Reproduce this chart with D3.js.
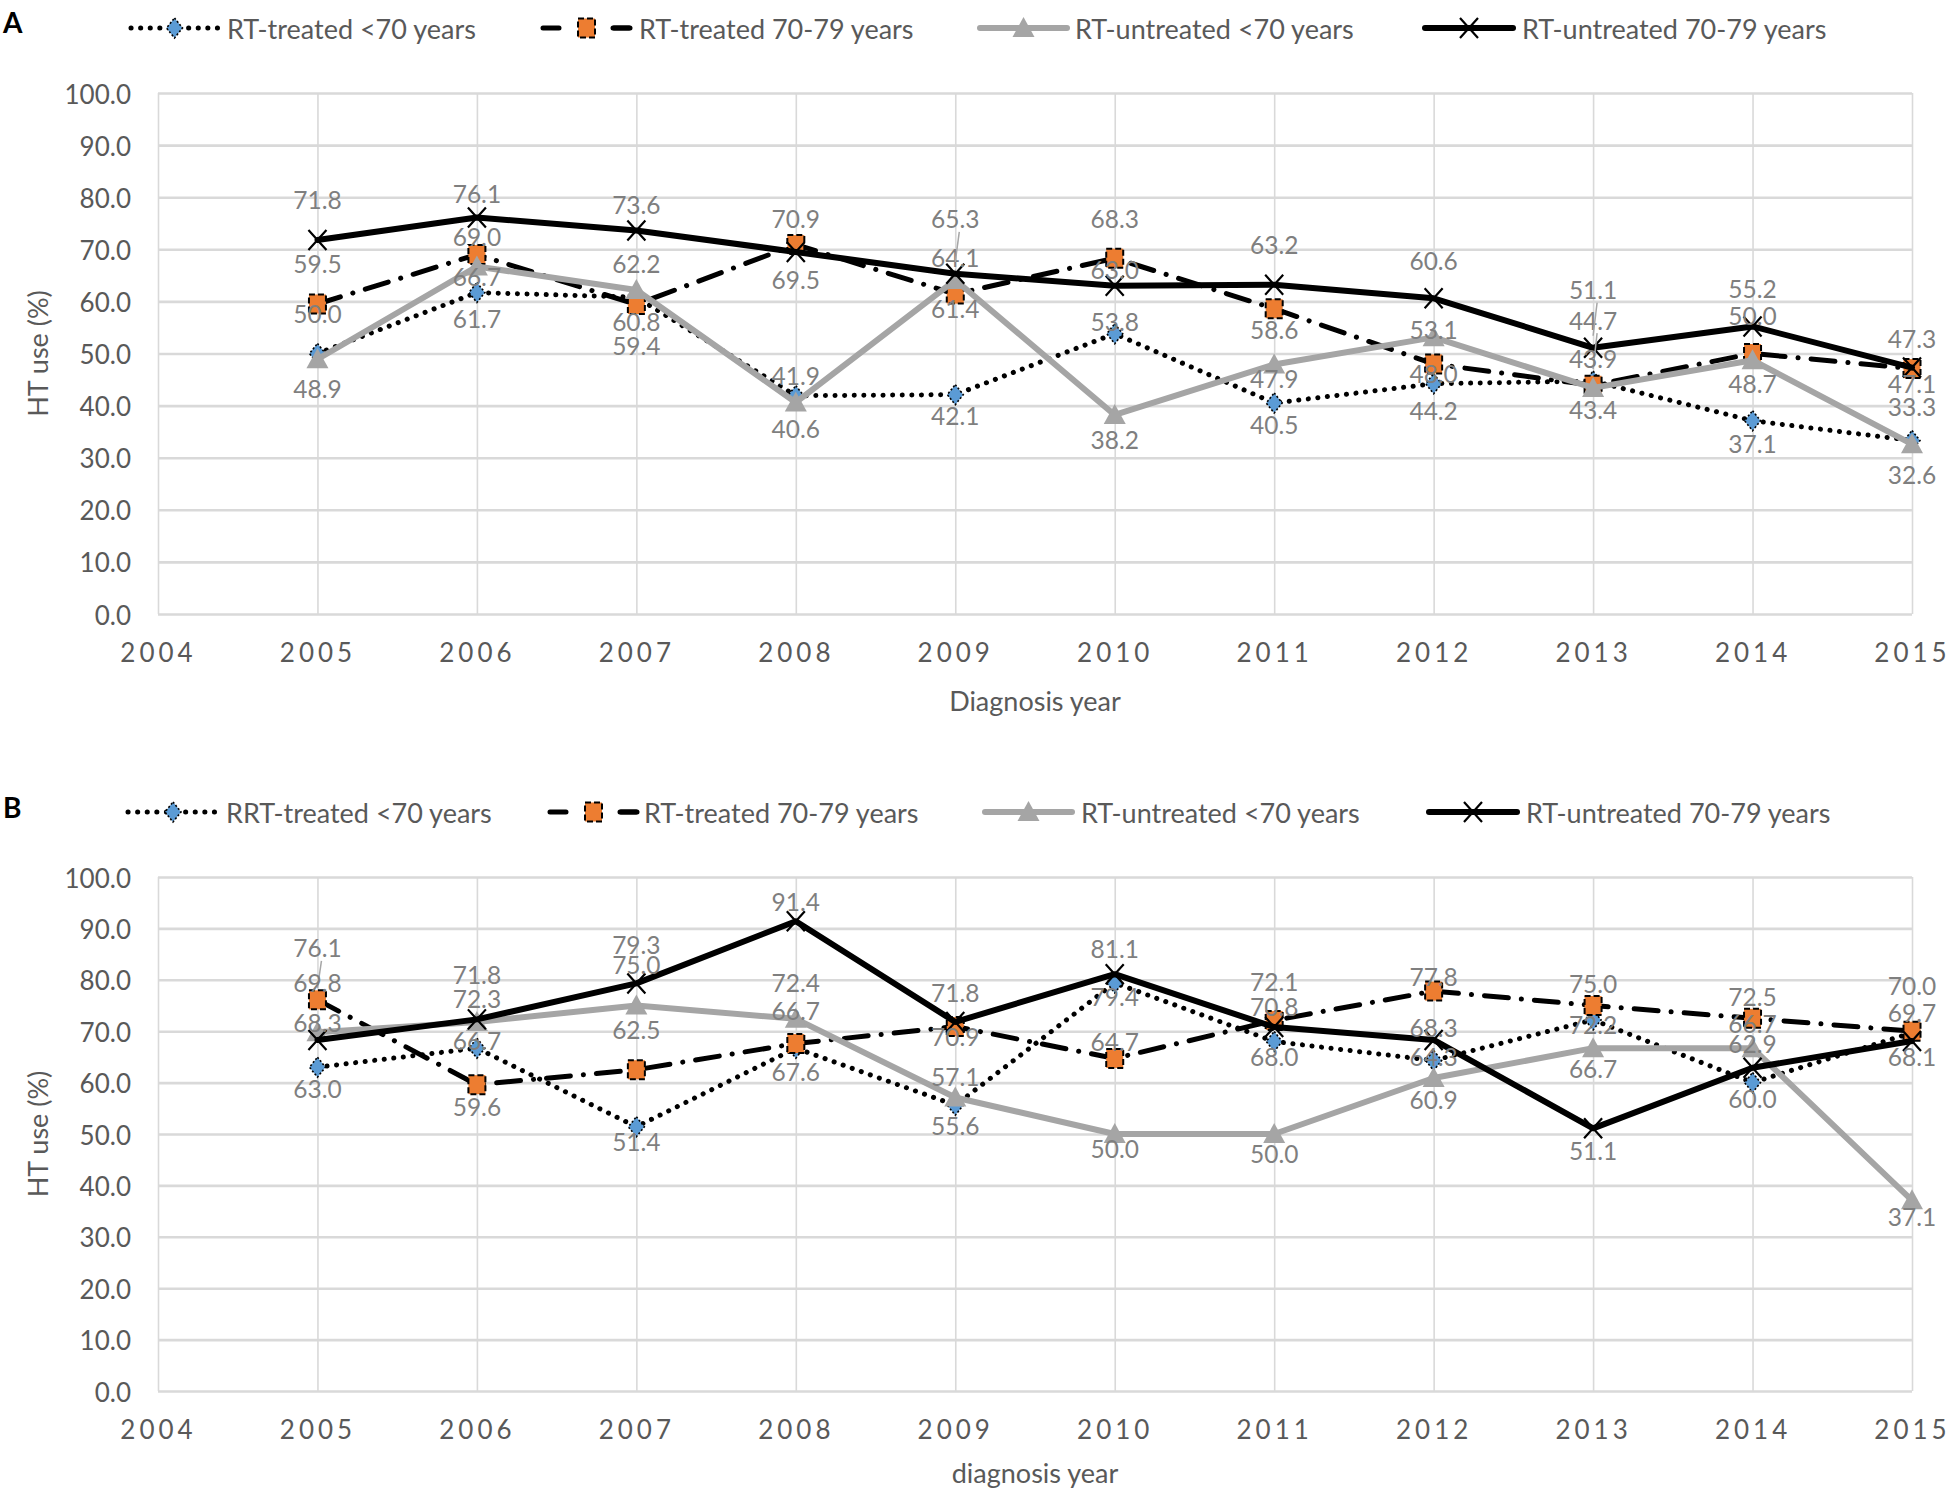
<!DOCTYPE html>
<html><head><meta charset="utf-8">
<script src="https://cdn.jsdelivr.net/npm/d3@7"></script>
<style>
body{margin:0;background:#fff;}
text{font-family:Lato,'Open Sans',sans-serif;}
</style>
</head><body>
<svg id="c" width="1952" height="1491"></svg>
<script>
// ---------- DATA ----------
const years = [2005,2006,2007,2008,2009,2010,2011,2012,2013,2014,2015];
const xTicks = [2004,2005,2006,2007,2008,2009,2010,2011,2012,2013,2014,2015];
const yTicks = [0,10,20,30,40,50,60,70,80,90,100];

const legendA = ["RT-treated <70 years","RT-treated 70-79 years","RT-untreated <70 years","RT-untreated 70-79 years"];
const legendB = ["RRT-treated <70 years","RT-treated 70-79 years","RT-untreated <70 years","RT-untreated 70-79 years"];

// Panel A
const aTreatedU70   = [50.0,61.7,60.8,41.9,42.1,53.8,40.5,44.2,44.7,37.1,33.3];
const aTreated7079  = [59.5,69.0,59.4,70.9,61.4,68.3,58.6,48.0,43.9,50.0,47.1];
const aUntreatedU70 = [48.9,66.7,62.2,40.6,64.1,38.2,47.9,53.1,43.4,48.7,32.6];
const aUntreated7079= [71.8,76.1,73.6,69.5,65.3,63.0,63.2,60.6,51.1,55.2,47.3];
// Panel B
const bTreatedU70   = [63.0,66.7,51.4,66.7,55.6,79.4,68.0,64.3,72.2,60.0,69.7];
const bTreated7079  = [76.1,59.6,62.5,67.6,70.9,64.7,72.1,77.8,75.0,72.5,70.0];
const bUntreatedU70 = [69.8,71.8,75.0,72.4,57.1,50.0,50.0,60.9,66.7,66.7,37.1];
const bUntreated7079= [68.3,72.3,79.3,91.4,71.8,81.1,70.8,68.3,51.1,62.9,68.1];

// data label vertical offsets (px, relative to marker)
const aLblBlue  = [-40,26,24,-20,21,-12,22,27,-61,23,-34];
const aLblOrg   = [-41,-18,41,-26,14,-40,21,10,-27,-38,15];
const aLblGray  = [29,10,-26,26,-23,25,14,-8,22,23,30];
const aLblBlack = [-40,-24,-26,28,-55,-16,-40,-38,-58,-38,-29];
const bLblBlue  = [21,-8,15,-38,20,14,15,-4,5,16,-20];
const bLblOrg   = [-52,22,-40,28,10,-17,-39,-15,-22,-22,-46];
const bLblGray  = [-50,-47,-41,-36,-21,14,19,22,20,-25,16];
const bLblBlack = [-17,-21,-39,-20,-29,-26,-21,-12,22,-24,16];

// ---------- DRAW ----------
const svg = d3.select('#c');
const X0 = 158, X1 = 1912;
const fmt = d3.format('.1f');

const styles = [
  {stroke:'#000', width:5, dash:'0.1 9.5', cap:'round', marker:'diamond'},
  {stroke:'#000', width:5, dash:'24 13 0.1 13', cap:'round', marker:'square'},
  {stroke:'#A5A5A5', width:6, dash:null, cap:'round', marker:'triangle'},
  {stroke:'#000', width:6, dash:null, cap:'round', marker:'x'}
];

function drawMarker(g, type, cx, cy){
  if(type==='diamond'){
    g.append('path').attr('d',`M${cx},${cy-10}L${cx+8},${cy}L${cx},${cy+10}L${cx-8},${cy}Z`)
     .attr('fill','#5B9BD5').attr('stroke','#000').attr('stroke-width',1.6).attr('stroke-dasharray','2 2');
  } else if(type==='square'){
    g.append('rect').attr('x',cx-8.5).attr('y',cy-9.5).attr('width',17).attr('height',19)
     .attr('fill','#ED7D31').attr('stroke','#000').attr('stroke-width',2).attr('stroke-dasharray','6 3');
  } else if(type==='triangle'){
    g.append('path').attr('d',`M${cx},${cy-11}L${cx+11},${cy+9}L${cx-11},${cy+9}Z`).attr('fill','#A5A5A5');
  } else {
    g.append('path').attr('d',`M${cx-9},${cy-10}L${cx+9},${cy+10}M${cx+9},${cy-10}L${cx-9},${cy+10}`)
     .attr('stroke','#000').attr('stroke-width',2.2).attr('fill','none');
  }
}

function panel(o){
  const g = svg.append('g');
  const x = d3.scaleLinear().domain([2004,2015]).range([X0,X1]);
  const y = d3.scaleLinear().domain([0,100]).range([o.bottom,o.top]);

  // panel letter
  g.append('text').attr('x',3).attr('y',o.letterY).attr('dominant-baseline','central')
    .attr('font-size',28).attr('font-weight','bold').attr('fill','#000').text(o.letter);

  // y axis + horizontal grid
  const ya = g.append('g').attr('transform',`translate(${X0},0)`)
    .call(d3.axisLeft(y).tickValues(yTicks).tickSize(-(X1-X0)).tickPadding(27).tickFormat(fmt));
  ya.select('.domain').remove();
  ya.selectAll('line').attr('stroke','#D9D9D9').attr('stroke-width',2.6);
  ya.selectAll('text').attr('font-size',26).attr('fill','#595959').attr('dy',null)
    .attr('dominant-baseline','central').style('font-family','Lato');

  // x axis + vertical grid
  const xa = g.append('g').attr('transform',`translate(0,${o.bottom})`)
    .call(d3.axisBottom(x).tickValues(xTicks).tickSize(-(o.bottom-o.top)).tickPadding(0).tickFormat(d3.format('d')));
  xa.select('.domain').remove();
  xa.selectAll('line').attr('stroke','#D9D9D9').attr('stroke-width',1.6);
  xa.selectAll('text').attr('font-size',26).attr('fill','#595959').attr('dy',null)
    .attr('y',38).attr('dominant-baseline','central').attr('letter-spacing','4px').style('font-family','Lato');

  // axis titles
  g.append('text').attr('x',(X0+X1)/2).attr('y',o.bottom+o.titleGap).attr('text-anchor','middle')
    .attr('dominant-baseline','central').attr('font-size',27).attr('fill','#595959').text(o.xTitle);
  g.append('text').attr('transform',`translate(37,${(o.top+o.bottom)/2}) rotate(-90)`)
    .attr('text-anchor','middle').attr('dominant-baseline','central').attr('font-size',27)
    .attr('fill','#595959').text('HT use (%)');

  // series
  const line = d3.line().x((d,i)=>x(years[i])).y(d=>y(d));
  o.series.forEach((s,k)=>{
    const st = styles[k];
    const p = g.append('path').attr('d',line(s)).attr('fill','none').attr('stroke',st.stroke)
      .attr('stroke-width',st.width).attr('stroke-linecap',st.cap).attr('stroke-linejoin','round');
    if(st.dash) p.attr('stroke-dasharray',st.dash);
    s.forEach((v,i)=>drawMarker(g, st.marker, x(years[i]), y(v)));
  });

  // data labels
  o.series.forEach((s,k)=>{
    s.forEach((v,i)=>{
      const cx = x(years[i]), cy = y(v), dy = o.labels[k][i];
      if(Math.abs(dy) >= 51){
        g.append('line').attr('x1',cx+4).attr('y1',cy+dy+13).attr('x2',cx).attr('y2',cy-12)
          .attr('stroke','#A6A6A6').attr('stroke-width',1.5);
      }
      g.append('text').attr('x',cx).attr('y',cy+dy).attr('text-anchor','middle')
        .attr('dominant-baseline','central').attr('font-size',24.5).attr('fill','#7F7F7F').text(fmt(v));
    });
  });

  // legend
  o.legend.forEach((name,k)=>{
    const L = o.legendPos[k], st = styles[k];
    const p = g.append('line').attr('x1',L[0]).attr('x2',L[1]).attr('y1',o.legendY).attr('y2',o.legendY)
      .attr('stroke',st.stroke).attr('stroke-width',st.width).attr('stroke-linecap','round');
    if(k===0) p.attr('stroke-dasharray','0.1 9.5');
    if(k===1) p.attr('stroke-dasharray','16 54');
    if(k===1){
      g.append('line').attr('x1',L[1]-16).attr('x2',L[1]).attr('y1',o.legendY).attr('y2',o.legendY)
        .attr('stroke','#000').attr('stroke-width',st.width).attr('stroke-linecap','round');
    }
    drawMarker(g, st.marker, (L[0]+L[1])/2, o.legendY);
    g.append('text').attr('x',L[2]).attr('y',o.legendY).attr('dominant-baseline','central')
      .attr('font-size',27).attr('fill','#595959').text(name);
  });
}

panel({letter:'A', letterY:22, top:93, bottom:614, titleGap:86, xTitle:'Diagnosis year',
  series:[aTreatedU70,aTreated7079,aUntreatedU70,aUntreated7079],
  labels:[aLblBlue,aLblOrg,aLblGray,aLblBlack],
  legend:legendA, legendY:28,
  legendPos:[[131,218,227],[543,630,639],[980,1067,1075],[1425,1513,1522]]});

panel({letter:'B', letterY:807, top:877, bottom:1391, titleGap:81, xTitle:'diagnosis year',
  series:[bTreatedU70,bTreated7079,bUntreatedU70,bUntreated7079],
  labels:[bLblBlue,bLblOrg,bLblGray,bLblBlack],
  legend:legendB, legendY:812,
  legendPos:[[128,218,226],[550,637,644],[985,1072,1081],[1429,1517,1526]]});
</script>
</body></html>
